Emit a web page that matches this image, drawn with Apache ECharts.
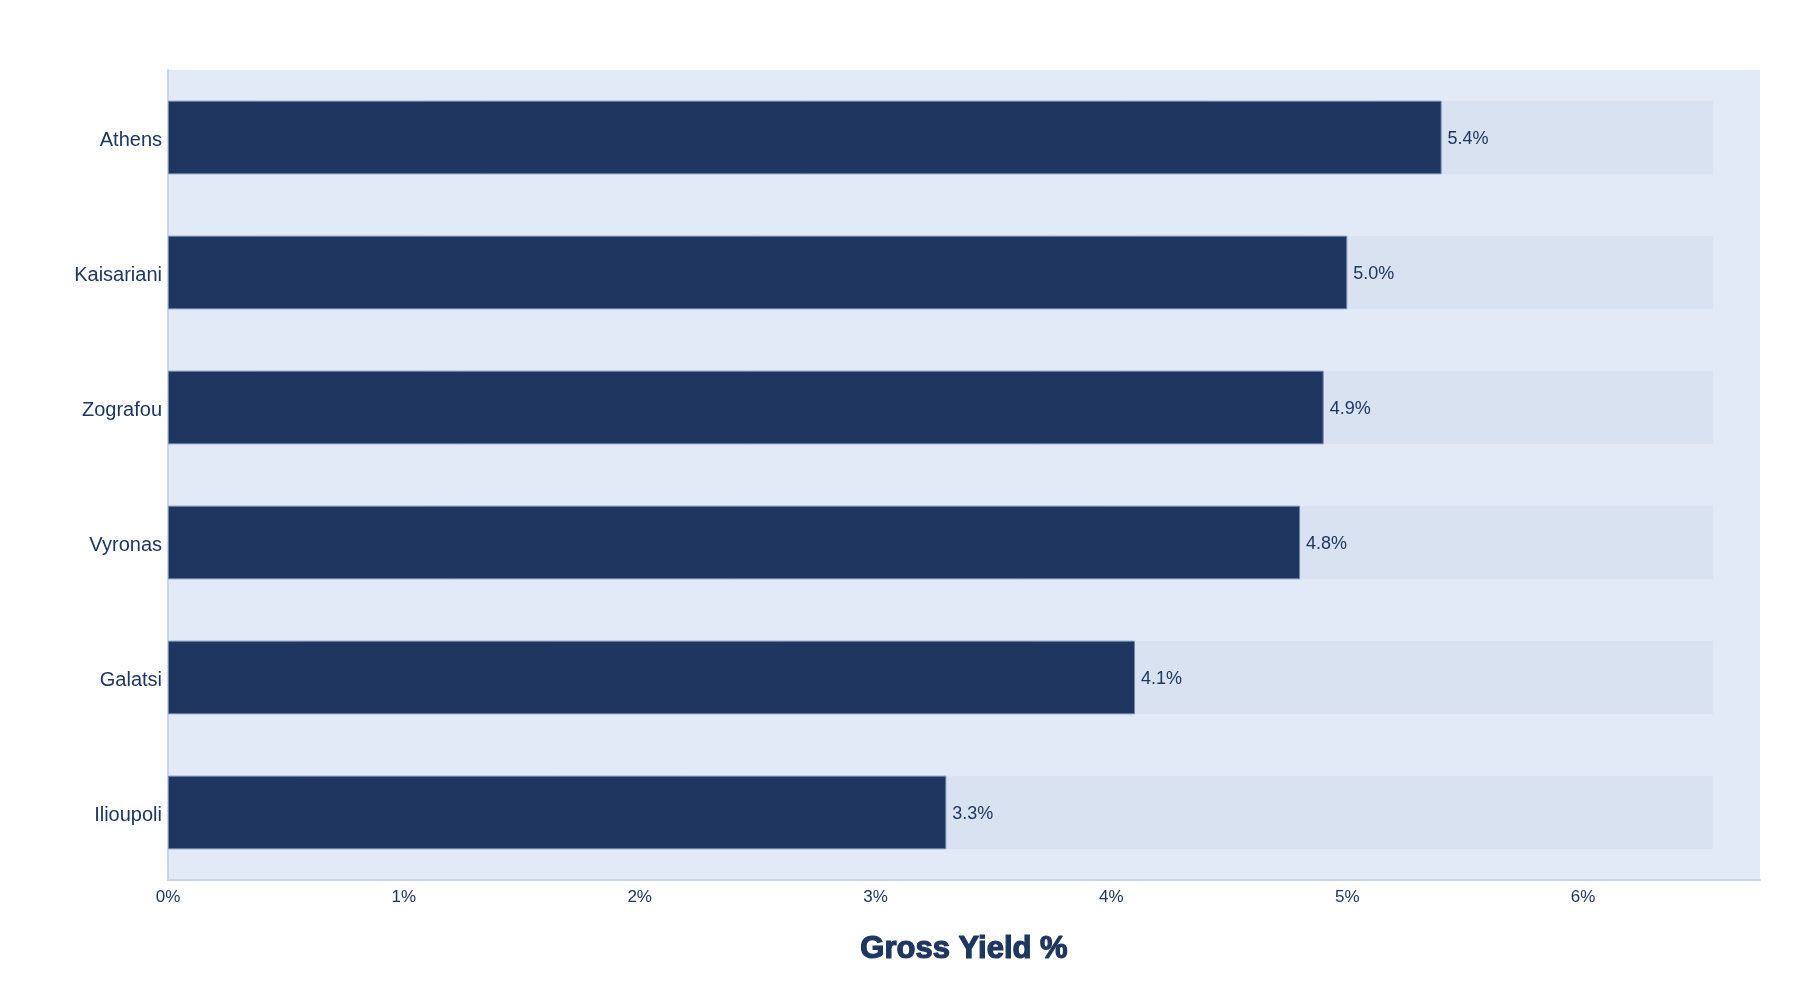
<!DOCTYPE html>
<html>
<head>
<meta charset="utf-8">
<title>Gross Yield %</title>
<script src="https://cdn.jsdelivr.net/npm/echarts@6/dist/echarts.min.js"></script>
<style>
  html, body { margin: 0; padding: 0; background: #ffffff; }
  #chart { width: 1800px; height: 1000px; }
</style>
</head>
<body>
<div id="chart"></div>
<script>
// areas, top to bottom
var areas = ['Athens', 'Kaisariani', 'Zografou', 'Vyronas', 'Galatsi', 'Ilioupoli'];
// gross yield, percent
var yields = [5.4, 5.0, 4.9, 4.8, 4.1, 3.3];
// light track drawn behind every bar
var trackValue = 6.55;
var tracks = areas.map(function () { return trackValue; });

var navy = '#1e3660';
var axisColor = '#c8d4e8';

var chart = echarts.init(document.getElementById('chart'));
chart.setOption({
    animation: false,
    textStyle: { fontFamily: 'Liberation Sans, Arial, sans-serif' },
    grid: {
        left: 168,
        right: 40,
        top: 70,
        bottom: 120,
        show: true,
        backgroundColor: '#e3eaf7',
        borderWidth: 0,
        containLabel: false
    },
    xAxis: {
        type: 'value',
        min: 0,
        max: 6.75,
        interval: 1,
        name: 'Gross Yield %',
        nameLocation: 'middle',
        nameGap: 54,
        nameTextStyle: {
            color: navy,
            fontSize: 31,
            fontWeight: 'bold',
            // a thin outline in the same colour, to get the heavier look
            textBorderColor: navy,
            textBorderWidth: 1.2
        },
        axisLine: { show: true, lineStyle: { color: axisColor, width: 2 } },
        axisTick: { show: false },
        splitLine: { show: false },
        axisLabel: {
            color: navy,
            fontSize: 17,
            margin: 9,
            formatter: function (v) { return v + '%'; },
            showMaxLabel: false
        }
    },
    yAxis: {
        type: 'category',
        data: areas,
        inverse: true,
        axisLine: { show: true, lineStyle: { color: axisColor, width: 2 } },
        axisTick: { show: false },
        splitLine: { show: false },
        axisLabel: {
            color: navy,
            fontSize: 20,
            margin: 6,
            formatter: function (v) { return '{n|' + v + '}'; },
            rich: {
                n: { color: navy, fontSize: 20, padding: [5, 0, 0, 0] }
            }
        }
    },
    series: [
        {
            type: 'bar',
            data: tracks,
            barWidth: '54.5%',
            barGap: '-100%',
            silent: true,
            itemStyle: { color: '#d9e2f1' },
            z: 1
        },
        {
            type: 'bar',
            data: yields,
            barWidth: '54.5%',
            itemStyle: {
                color: navy,
                borderColor: '#7386a6',
                borderWidth: 1
            },
            label: {
                show: true,
                position: 'right',
                distance: 6,
                offset: [0, 2],
                color: navy,
                fontSize: 18,
                formatter: function (p) { return p.value.toFixed(1) + '%'; }
            },
            z: 2
        }
    ]
});
</script>
</body>
</html>
